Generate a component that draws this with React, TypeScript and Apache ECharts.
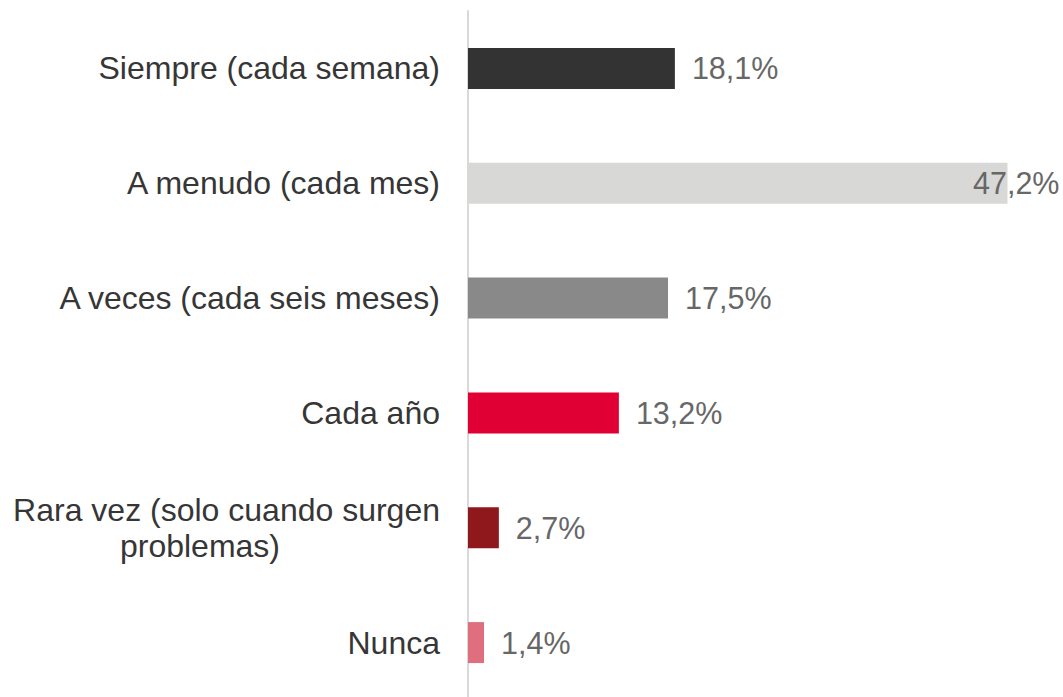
import React, { useEffect, useRef } from "react";
import * as echarts from "echarts";

const categories = [
  "Siempre (cada semana)",
  "A menudo (cada mes)",
  "A veces (cada seis meses)",
  "Cada año",
  "Rara vez (solo cuando surgen\nproblemas)",
  "Nunca",
];
const values = [18.1, 47.2, 17.5, 13.2, 2.7, 1.4];
const barColors = ["#333333", "#d8d8d6", "#898989", "#e00034", "#8e181c", "#df6f7f"];

export default function App() {
  const ref = useRef<HTMLDivElement>(null);
  useEffect(() => {
    if (!ref.current) return;
    const chart = echarts.init(ref.current, undefined, { renderer: "svg" });
    const font = "Liberation Sans, Arial, sans-serif";
    chart.setOption({
      animation: false,
      grid: { left: 468, top: 11, width: 571.5, height: 689 },
      xAxis: { type: "value", min: 0, max: 50, show: false },
      yAxis: {
        type: "category",
        inverse: true,
        data: categories,
        axisLine: { show: true, lineStyle: { color: "#d9d9d9", width: 2 } },
        axisTick: { show: false },
        axisLabel: {
          margin: 28,
          color: "#363636",
          fontFamily: font,
          fontSize: 32,
          lineHeight: 36,
          formatter: (v: string) => {
            if (v.indexOf("\n") >= 0) {
              const parts = v.split("\n");
              return "{a|" + parts[0] + "}\n{b|" + parts[1] + "}";
            }
            return v;
          },
          rich: {
            a: { fontFamily: font, fontSize: 32, color: "#363636", lineHeight: 36 },
            b: { fontFamily: font, fontSize: 32, color: "#363636", lineHeight: 36, padding: [0, 160, 0, 0] },
          },
        },
      },
      series: [
        {
          type: "bar",
          barWidth: 41,
          data: values.map((v, i) => ({
            value: v,
            itemStyle: { color: barColors[i] },
            label:
              i === 1
                ? { position: "insideRight", distance: 0, offset: [52, 0] }
                : undefined,
          })),
          label: {
            show: true,
            position: "right",
            distance: 17,
            color: "#676767",
            fontFamily: font,
            fontSize: 30.5,
            formatter: (p: any) => p.value.toFixed(1).replace(".", ",") + "%",
          },
        },
      ],
    });
    return () => chart.dispose();
  }, []);
  return (
    <div
      ref={ref}
      style={{ position: "fixed", left: 0, top: 0, width: 1063, height: 720, background: "#fff" }}
    />
  );
}
